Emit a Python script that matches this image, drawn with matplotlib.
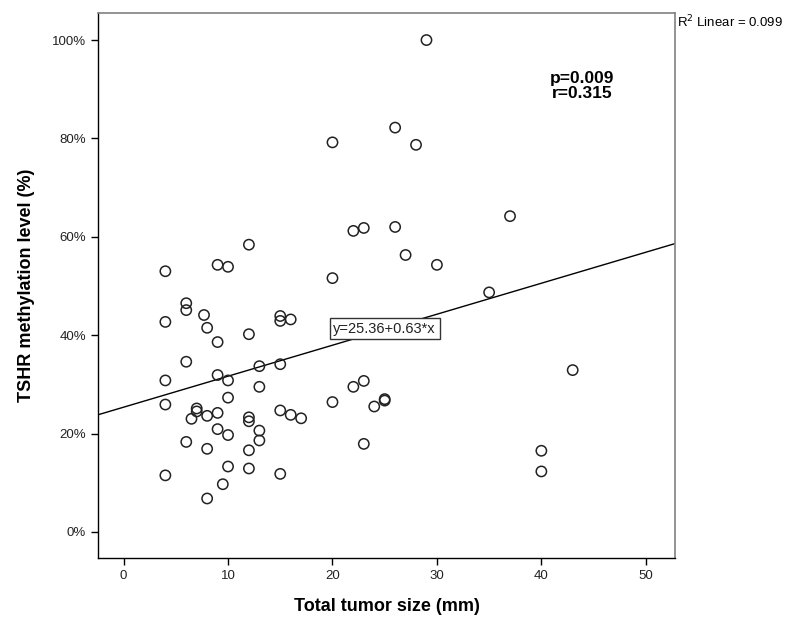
import matplotlib
matplotlib.use('Agg')
import matplotlib.pyplot as plt
import numpy as np

plt.rcParams['font.family'] = ['Liberation Sans Narrow', 'Liberation Sans', 'DejaVu Sans']

# tumor size (mm) and TSHR methylation level (%)
tumor_size = [29, 26, 28, 20, 37, 26, 22, 23, 12, 27, 30, 20, 4, 9, 10, 35,
              6, 6, 7.7, 8, 15, 15, 16, 4, 12, 9, 6, 13, 15, 4, 9, 10, 13,
              22, 23, 10, 20, 25, 25, 24, 4, 7, 7, 6.5, 8, 9, 12, 12, 15,
              16, 17, 13, 9, 10, 6, 13, 23, 8, 12, 40, 10, 12, 4, 15, 40,
              9.5, 8, 43]
methylation = [100.0, 82.2, 78.7, 79.2, 64.2, 62.0, 61.2, 61.8, 58.4, 56.3,
               54.3, 51.6, 53.0, 54.3, 53.9, 48.7, 46.5, 45.1, 44.1, 41.5,
               43.9, 42.9, 43.2, 42.7, 40.2, 38.6, 34.6, 33.7, 34.1, 30.8,
               31.9, 30.8, 29.5, 29.5, 30.7, 27.3, 26.4, 27.0, 26.7, 25.5,
               25.9, 25.1, 24.5, 23.0, 23.6, 24.2, 23.3, 22.5, 24.7, 23.8,
               23.1, 20.6, 20.9, 19.7, 18.3, 18.6, 17.9, 16.9, 16.6, 16.5,
               13.3, 12.9, 11.5, 11.8, 12.3, 9.7, 6.8, 32.9]

intercept = 25.36
slope = 0.63
r2 = 0.099

x_ticks = [0, 10, 20, 30, 40, 50]
y_ticks = [0, 20, 40, 60, 80, 100]

fig = plt.figure(figsize=(7.91, 6.25), dpi=100)
ax = fig.add_axes([0.1239, 0.1072, 0.7295, 0.872])

ax.scatter(tumor_size, methylation, s=55, facecolors='none',
           edgecolors='#222222', linewidths=1.1, zorder=3)

xlim = (-2.45, 52.8)
ax.set_xlim(*xlim)
ax.set_ylim(-5.3, 105.5)

xs = np.array(xlim)
ax.plot(xs, intercept + slope * xs, color='black', lw=1.0, zorder=2)

ax.text(25, 41.3, 'y=25.36+0.63*x', ha='center', va='center', fontsize=10.5,
        color='#222222',
        bbox=dict(boxstyle='square,pad=0.25', facecolor='white',
                  edgecolor='#333333', linewidth=1.0), zorder=4)

ax.text(0.839, 0.866, 'p=0.009\nr=0.315', transform=ax.transAxes,
        ha='center', va='center', fontsize=12.5, weight='bold',
        family=['Liberation Sans', 'DejaVu Sans'], linespacing=1.0)

ax.text(1.003, 0.983, 'R$^2$ Linear = 0.099', transform=ax.transAxes,
        ha='left', va='center', fontsize=9.5,
        family=['Liberation Sans', 'DejaVu Sans'])

ax.set_xticks(x_ticks)
ax.set_xticklabels([str(t) for t in x_ticks])
ax.set_yticks(y_ticks)
ax.set_yticklabels([f'{t}%' for t in y_ticks])
ax.tick_params(direction='out', length=5, width=1, labelsize=9.5,
               colors='black', labelcolor='#222222')

for side in ['top', 'right']:
    ax.spines[side].set_color('#808080')
    ax.spines[side].set_linewidth(1.2)
for side in ['left', 'bottom']:
    ax.spines[side].set_color('black')
    ax.spines[side].set_linewidth(1.0)

ax.set_xlabel('Total tumor size (mm)', fontsize=13, weight='bold', labelpad=12)
ax.set_ylabel('TSHR methylation level (%)', fontsize=13, weight='bold', labelpad=12)

fig.savefig('out.png', dpi=100, facecolor='white')
